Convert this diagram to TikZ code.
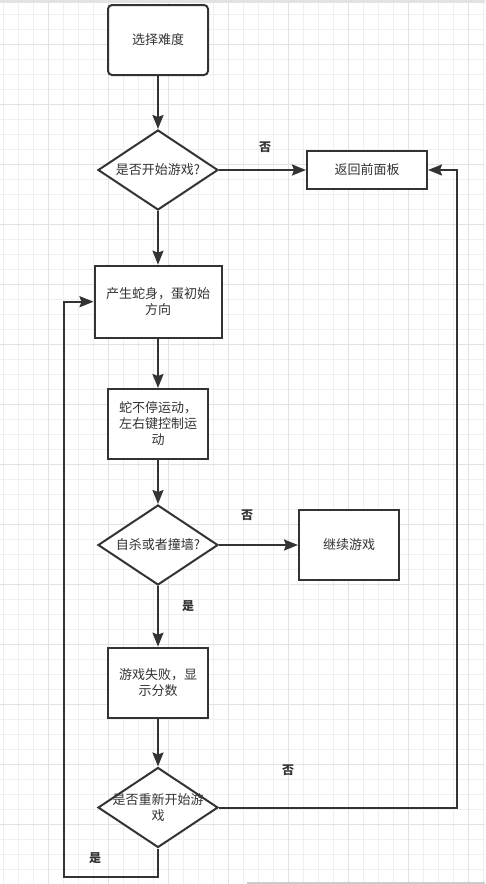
\documentclass[tikz,border=0pt]{standalone}
\usepackage{fontspec}
\newfontfamily\cjk{Noto Sans CJK SC}
\usetikzlibrary{arrows.meta, shapes.geometric}

\definecolor{ink}{HTML}{333333}
\definecolor{gridminor}{HTML}{EFEFEF}
\definecolor{gridmajor}{HTML}{E2E2E2}

\tikzset{
  procbox/.style={draw=ink, line width=2pt, fill=white, inner sep=0pt,
    font=\cjk\fontsize{13}{16}\selectfont, text=ink, align=center},
  decision/.style={diamond, draw=ink, line width=2pt, fill=white, inner sep=0pt,
    minimum width=120pt, minimum height=80pt},
  arr/.style={draw=ink, line width=2pt, -{Stealth[length=14pt, width=11pt, inset=2pt]}},
  branchlbl/.style={font=\cjk\bfseries\fontsize{12}{14}\selectfont, text=ink}
}

\begin{document}
\begin{tikzpicture}[x=1pt, y=-1pt]
\useasboundingbox (0,0) rectangle (485,884);

% Background grid
\foreach \gx in {3,18,...,483} \draw[gridminor, line width=1pt] (\gx,0) -- (\gx,884);
\foreach \gy in {14,29,...,884} \draw[gridminor, line width=1pt] (0,\gy) -- (485,\gy);
\foreach \gx in {48,108,...,468} \draw[gridmajor, line width=1pt] (\gx,0) -- (\gx,884);
\foreach \gy in {44,104,...,884} \draw[gridmajor, line width=1pt] (0,\gy) -- (485,\gy);
\fill[gridmajor] (0,0) rectangle (485,3);
\fill[gridmajor!90!black] (247,881.5) rectangle (485,884);

% Nodes (placed at coordinates)
\node[procbox, rounded corners=4pt, minimum width=100pt, minimum height=70pt] (choose) at (158,40) {选择难度};
\node[decision, label={[font=\cjk\fontsize{13}{16}\selectfont, text=ink]center:是否开始游戏?}] (askstart) at (158,170) {};
\node[procbox, minimum width=120pt, minimum height=38pt] (backpanel) at (367,170) {返回前面板};
\node[procbox, minimum width=127pt, minimum height=72pt] (spawn) at (158,301.7) {产生蛇身，蛋初始\\方向};
\node[procbox, minimum width=100pt, minimum height=70pt] (moving) at (158,424) {蛇不停运动，\\左右键控制运\\动};
\node[decision, label={[font=\cjk\fontsize{13}{16}\selectfont, text=ink]center:自杀或者撞墙?}] (askhit) at (158,545) {};
\node[procbox, minimum width=100pt, minimum height=70pt] (goon) at (349,545) {继续游戏};
\node[procbox, minimum width=100pt, minimum height=70pt] (gameover) at (158,682.7) {游戏失败，显\\示分数};
\node[decision, label={[font=\cjk\fontsize{13}{16}\selectfont, text=ink, align=center]center:是否重新开始游\\戏}] (askagain) at (158,807.5) {};

% Rails for the return loops
\coordinate (rightrail) at (457,170);
\coordinate (leftrail) at (64.3,877.3);

% Connectors
\draw[arr] (choose) -- (askstart);
\draw[arr] (askstart) -- (backpanel);
\draw[arr] (askstart) -- (spawn);
\draw[arr] (spawn) -- (moving);
\draw[arr] (moving) -- (askhit);
\draw[arr] (askhit) -- (goon);
\draw[arr] (askhit) -- (gameover);
\draw[arr] (gameover) -- (askagain);
\draw[arr] (askagain.east) -| (rightrail) -- (backpanel.east);
\draw[arr] (askagain.south) |- (leftrail) |- (spawn.west);

% Branch labels
\node[branchlbl] (no1) at (265,147) {否};
\node[branchlbl] (no2) at (247,515) {否};
\node[branchlbl] (yes2) at (188,606) {是};
\node[branchlbl] (no3) at (288,770) {否};
\node[branchlbl] (yes3) at (95,858) {是};

\end{tikzpicture}
\end{document}
